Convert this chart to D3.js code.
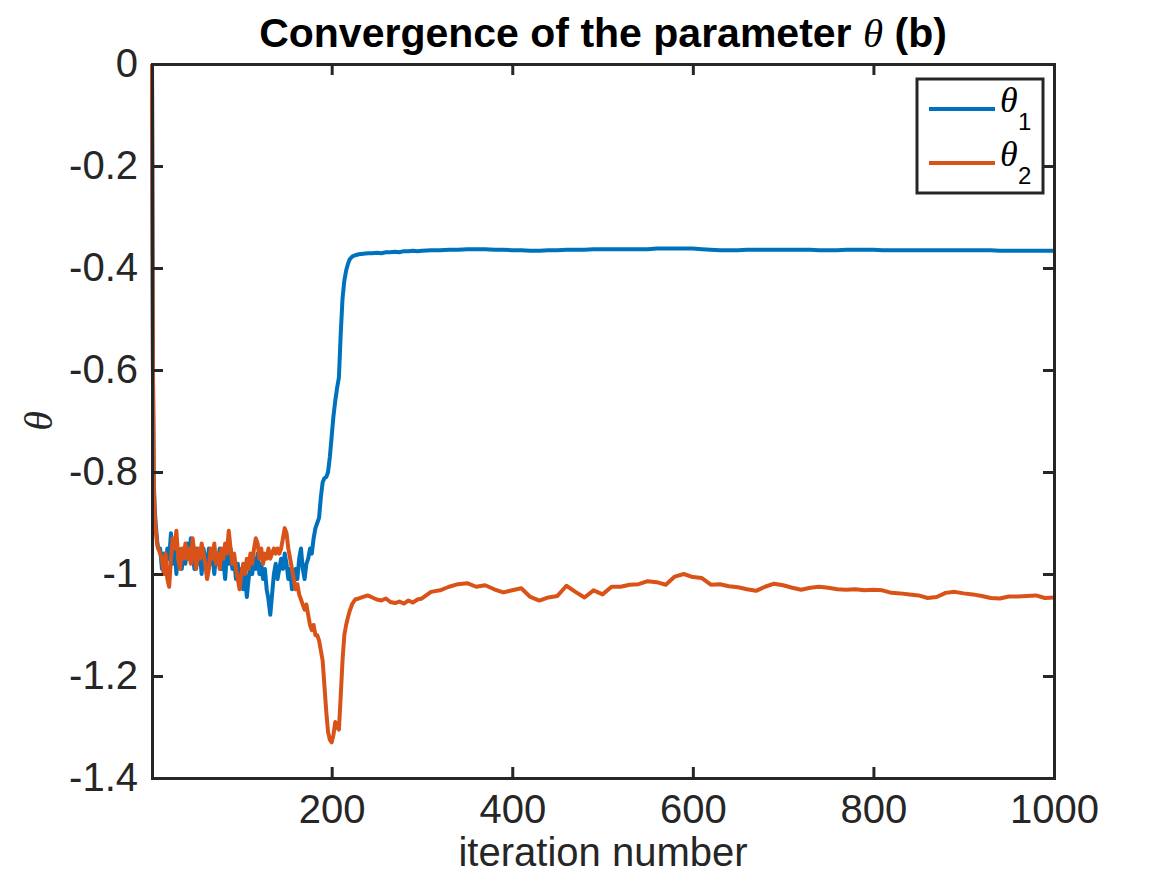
<!DOCTYPE html>
<html lang="en">
<head>
	<meta charset="UTF-8">
	<title>Convergence of the parameter theta (b)</title>
	<script src="https://d3js.org/d3.v7.min.js"></script>
	<style>
		body {
			margin: 0;
			background: #fff;
		}

		svg {
			background: #fff;
			font-family: "Liberation Sans", Arial, sans-serif;
		}

		.axis path,
		.axis line {
			stroke: #262626;
			stroke-width: 3;
		}

		.axis text {
			fill: #262626;
			font-size: 40px;
			font-family: "Liberation Sans", Arial, sans-serif;
		}

		.series {
			fill: none;
			stroke-width: 4;
			stroke-linejoin: round;
		}
	</style>
</head>
<body>

<script>
	var iter = [
		1, 2, 3, 4, 5, 6, 7, 8,
		10, 12, 14, 16, 18, 20, 22, 24, 26, 28, 30, 32, 34, 36, 38, 40, 42, 44, 46, 48, 50,
		52, 54, 56, 58, 60, 62, 64, 66, 68, 70, 72, 74, 76, 78, 80, 82, 84, 86, 88, 90,
		92, 94, 96, 98, 100, 102, 104, 106, 108, 110, 112, 114, 116, 118, 120, 122, 124, 126, 128, 130,
		132, 134, 136, 138, 140, 142, 144, 146, 148, 150, 152, 154, 156, 158, 160, 162, 164, 166, 168, 170,
		172, 174, 176, 178, 180, 182, 184, 186, 188, 190,
		192, 194, 196, 198, 200, 202, 204, 206, 208, 210, 212, 214, 216, 218, 220,
		223, 226,
		230, 235, 240, 245, 250, 255, 260, 265, 270, 275, 280, 285, 290, 295, 300,
		310, 320, 330, 340, 350, 360, 370, 380, 390, 400, 410, 420, 430, 440, 450, 460, 470, 480, 490, 500,
		510, 520, 530, 540, 550, 560, 570, 580, 590, 600, 610, 620, 630, 640, 650, 660, 670, 680, 690, 700,
		710, 720, 730, 740, 750, 760, 770, 780, 790, 800, 810, 820, 830, 840, 850, 860, 870, 880, 890, 900,
		910, 920, 930, 940, 950, 960, 970, 980, 990, 1000
	];

	var theta1 = [
		0, -0.58, -0.82, -0.87, -0.9, -0.92, -0.94, -0.95,
		-0.95, -0.99, -0.96, -1.00, -0.95, -0.97, -0.92, -0.98, -0.94, -1.00, -0.95, -0.97, -0.99, -0.95, -0.98, -0.94, -0.97, -0.93, -0.96, -0.99, -0.95,
		-0.98, -0.96, -1.00, -0.95, -0.97, -0.99, -0.95, -0.98, -0.96, -1.00, -0.96, -0.98, -0.95, -0.99, -0.97, -1.01, -0.96, -0.98, -0.95, -0.99,
		-0.97, -1.01, -0.98, -1.02, -0.99, -1.03, -1.00, -1.045, -1.01, -0.98, -1.00, -0.97, -0.99, -0.96, -1.00, -0.98, -1.01, -0.99, -1.03, -1.05,
		-1.08, -1.04, -1.00, -0.98, -1.01, -0.99, -0.97, -0.99, -0.96, -0.98, -1.01, -0.99, -1.03, -1.02, -0.99, -1.01, -0.97, -0.95, -0.99, -1.01,
		-0.98, -0.97, -0.95, -0.96, -0.93, -0.91, -0.90, -0.89, -0.85, -0.82,
		-0.812, -0.81, -0.80, -0.77, -0.73, -0.69, -0.66, -0.635, -0.615, -0.53, -0.46, -0.425, -0.405, -0.392, -0.383,
		-0.377, -0.375,
		-0.373, -0.372, -0.371, -0.371, -0.370, -0.371, -0.369, -0.369, -0.368, -0.369, -0.367, -0.367, -0.366, -0.367, -0.366,
		-0.365, -0.365, -0.364, -0.364, -0.363, -0.363, -0.363, -0.364, -0.364, -0.365, -0.365, -0.366, -0.366, -0.365, -0.365, -0.364, -0.364, -0.364, -0.363, -0.363,
		-0.363, -0.363, -0.363, -0.363, -0.363, -0.362, -0.362, -0.362, -0.362, -0.362, -0.363, -0.364, -0.365, -0.365, -0.365, -0.364, -0.364, -0.364, -0.364, -0.364,
		-0.364, -0.364, -0.364, -0.365, -0.365, -0.365, -0.364, -0.364, -0.364, -0.364, -0.365, -0.365, -0.365, -0.365, -0.365, -0.365, -0.365, -0.365, -0.365, -0.365,
		-0.365, -0.365, -0.365, -0.366, -0.366, -0.366, -0.366, -0.366, -0.366, -0.366
	];

	var theta2 = [
		0, -0.6, -0.83, -0.88, -0.91, -0.93, -0.945, -0.95,
		-0.96, -0.97, -1.00, -0.96, -1.01, -1.025, -0.97, -0.93, -0.95, -0.915, -0.97, -0.99, -0.95, -0.97, -0.94, -0.97, -0.95, -0.98, -0.93, -0.96, -0.99,
		-0.95, -0.97, -0.94, -0.96, -0.98, -1.01, -0.99, -0.95, -0.97, -0.94, -0.98, -0.96, -0.99, -0.95, -0.97, -0.94, -0.96, -0.915, -0.95, -0.98,
		-0.96, -0.99, -1.01, -1.03, -1.00, -0.98, -1.00, -0.97, -0.99, -0.96, -0.98, -0.95, -0.93, -0.94, -0.97, -0.95, -0.98, -0.96, -0.97, -0.95,
		-0.97, -0.96, -0.95, -0.96, -0.95, -0.96, -0.95, -0.93, -0.91, -0.92, -0.95, -0.97, -0.99, -1.01, -1.03, -1.02, -1.04, -1.05, -1.06, -1.07,
		-1.06, -1.08, -1.10, -1.11, -1.10, -1.12, -1.12, -1.13, -1.15, -1.17,
		-1.22, -1.27, -1.31, -1.325, -1.33, -1.315, -1.29, -1.30, -1.305, -1.24, -1.17, -1.12, -1.10, -1.085, -1.072,
		-1.058, -1.05,
		-1.048, -1.045, -1.042, -1.046, -1.050, -1.052, -1.048, -1.055, -1.057, -1.054, -1.058, -1.052, -1.056, -1.05, -1.048,
		-1.035, -1.032, -1.025, -1.02, -1.018, -1.025, -1.022, -1.03, -1.036, -1.032, -1.028, -1.045, -1.052, -1.046, -1.043, -1.023, -1.035, -1.046, -1.032, -1.04,
		-1.025, -1.025, -1.021, -1.02, -1.014, -1.016, -1.021, -1.005, -1.0, -1.006, -1.008, -1.021, -1.02, -1.024, -1.026, -1.03, -1.033, -1.025, -1.019, -1.022,
		-1.027, -1.031, -1.027, -1.025, -1.027, -1.03, -1.031, -1.03, -1.032, -1.031, -1.032, -1.037, -1.038, -1.04, -1.042, -1.047, -1.045, -1.037, -1.035, -1.038,
		-1.04, -1.043, -1.047, -1.048, -1.044, -1.044, -1.043, -1.042, -1.047, -1.046
	];

	var xTicks = [200, 400, 600, 800, 1000];
	var yTicks = [0, -0.2, -0.4, -0.6, -0.8, -1, -1.2, -1.4];
	var seriesNames = ["1", "2"];
	var seriesColors = ["#0072BD", "#D95319"];

	var width = 1167,
		height = 875;

	// plot box (top is a reserved global name, so m*)
	var mLeft = 152,
		mRight = 1054,
		mTop = 64,
		mBottom = 778;

	var svg = d3.select("body").append("svg")
		.attr("width", width)
		.attr("height", height);

	var x = d3.scaleLinear()
		.domain([1, 1000])
		.range([mLeft, mRight]);

	var y = d3.scaleLinear()
		.domain([-1.4, 0])
		.range([mBottom, mTop]);

	var line = d3.line()
		.x(function (d) { return x(d[0]); })
		.y(function (d) { return y(d[1]); });

	// curves, blue first so the orange one sits on top like in matlab
	[theta1, theta2].forEach(function (vals, k) {
		svg.append("path")
			.datum(iter.map(function (it, i) { return [it, vals[i]]; }))
			.attr("class", "series")
			.attr("stroke", seriesColors[k])
			.attr("d", line);
	});

	var fmt = function (d) { return String(d); };

	// axes (ticks point inwards)
	svg.append("g")
		.attr("class", "axis")
		.attr("transform", "translate(0," + mBottom + ")")
		.call(d3.axisBottom(x).tickValues(xTicks).tickSize(-11).tickSizeOuter(0).tickPadding(17).tickFormat(fmt));

	svg.append("g")
		.attr("class", "axis")
		.attr("transform", "translate(0," + mTop + ")")
		.call(d3.axisTop(x).tickValues(xTicks).tickSize(-11).tickSizeOuter(0).tickFormat(""));

	svg.append("g")
		.attr("class", "axis")
		.attr("transform", "translate(" + mLeft + ",0)")
		.call(d3.axisLeft(y).tickValues(yTicks).tickSize(-11).tickSizeOuter(0).tickPadding(14).tickFormat(fmt));

	svg.append("g")
		.attr("class", "axis")
		.attr("transform", "translate(" + mRight + ",0)")
		.call(d3.axisRight(y).tickValues(yTicks).tickSize(-11).tickSizeOuter(0).tickFormat(""));

	svg.selectAll(".axis path").attr("stroke-linecap", "square");

	// title
	var title = svg.append("text")
		.attr("x", (mLeft + mRight) / 2)
		.attr("y", 47)
		.attr("text-anchor", "middle")
		.style("font-size", "41px")
		.style("font-weight", "bold")
		.style("fill", "#000");
	title.append("tspan").text("Convergence of the parameter ");
	title.append("tspan")
		.style("font-family", "'Liberation Serif', serif")
		.style("font-style", "italic")
		.style("font-weight", "normal")
		.text("θ");
	title.append("tspan").text(" (b)");

	// axis labels
	svg.append("text")
		.attr("x", (mLeft + mRight) / 2)
		.attr("y", 866)
		.attr("text-anchor", "middle")
		.style("font-size", "40px")
		.style("fill", "#262626")
		.text("iteration number");

	svg.append("text")
		.attr("transform", "translate(52," + ((mTop + mBottom) / 2) + ") rotate(-90)")
		.attr("text-anchor", "middle")
		.style("font-size", "40px")
		.style("font-family", "'Liberation Serif', serif")
		.style("font-style", "italic")
		.style("fill", "#262626")
		.text("θ");

	// legend
	var legend = svg.append("g")
		.attr("transform", "translate(917,79)");

	legend.append("rect")
		.attr("width", 126)
		.attr("height", 114)
		.attr("fill", "#fff")
		.attr("stroke", "#262626")
		.attr("stroke-width", 3);

	seriesNames.forEach(function (n, k) {
		var ly = 30 + k * 54;
		legend.append("line")
			.attr("x1", 12)
			.attr("x2", 78)
			.attr("y1", ly)
			.attr("y2", ly)
			.attr("stroke", seriesColors[k])
			.attr("stroke-width", 4);

		legend.append("text")
			.attr("x", 83)
			.attr("y", ly + 3)
			.style("font-size", "36px")
			.style("font-family", "'Liberation Serif', serif")
			.style("font-style", "italic")
			.style("fill", "#000")
			.text("θ");

		legend.append("text")
			.attr("x", 101)
			.attr("y", ly + 21)
			.style("font-size", "24px")
			.style("fill", "#000")
			.text(n);
	});
</script>

</body>
</html>
